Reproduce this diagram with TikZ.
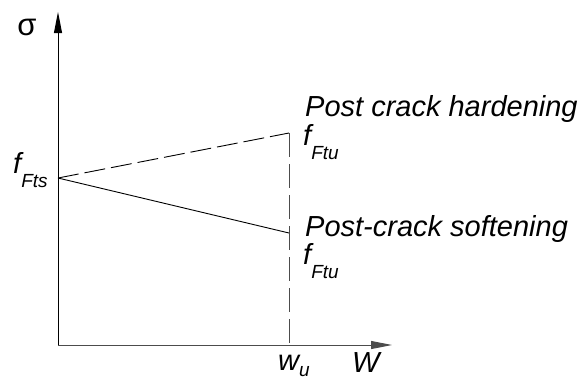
\documentclass[tikz,border=0pt]{standalone}
\usepackage{fontspec}
\setmainfont{Liberation Sans}
\usetikzlibrary{arrows.meta,positioning}
\tikzset{
  axisln/.style={-{Triangle[length=21pt,width=8pt]}, line width=0.9pt},
  curveln/.style={line width=0.9pt},
  dashln/.style={line width=0.9pt, dash pattern=on 21pt off 6pt},
  vdashln/.style={line width=0.9pt, gray!60!black, dash pattern=on 24pt off 7pt},
  lbl/.style={font=\fontsize{29}{29}\selectfont\itshape, inner sep=0pt},
}
\newcommand{\sublbl}[3][-14pt]{#2\raisebox{#1}{\fontsize{19}{19}\selectfont #3}}
\begin{document}
\begin{tikzpicture}[x=1pt, y=-1pt]
  \useasboundingbox (0,0) rectangle (583,381);
  % key points
  \coordinate (O) at (58,345);
  \coordinate (ytop) at (58,12);
  \coordinate (xend) at (392,345);
  \coordinate (fts) at (58,178);
  \coordinate (hard) at (289,133);
  \coordinate (soft) at (289,233);
  \coordinate (wu) at (289,345);
  % axes
  \draw[axisln] (O) -- (ytop);
  \draw[axisln, gray!60!black] (O) -- (xend);
  % branches from f_Fts
  \draw[dashln] (fts) -- (hard);
  \draw[curveln] (fts) -- (soft);
  \draw[vdashln] (hard) -- (wu);
  % labels
  \node[lbl, font=\fontsize{31}{31}\selectfont, anchor=base] (sig) at (27,35) {σ};
  \node[lbl, anchor=base west] (ftsl) at (13,173) {\sublbl{f}{Fts}};
  \node[lbl, anchor=base west] (hardl) at (305,116) {Post crack hardening};
  \node[lbl, anchor=base west] (ftuh) at (303,145) {\sublbl{f}{Ftu}};
  \node[lbl, anchor=base west] (softl) at (305,236) {Post-crack softening};
  \node[lbl, anchor=base west] (ftus) at (303,264) {\sublbl{f}{Ftu}};
  \node[lbl, anchor=base west] (wul) at (278,370) {\sublbl[-6pt]{w}{u}};
  \node[lbl, anchor=base west] (Wl) at (352,372) {W};
\end{tikzpicture}
\end{document}
